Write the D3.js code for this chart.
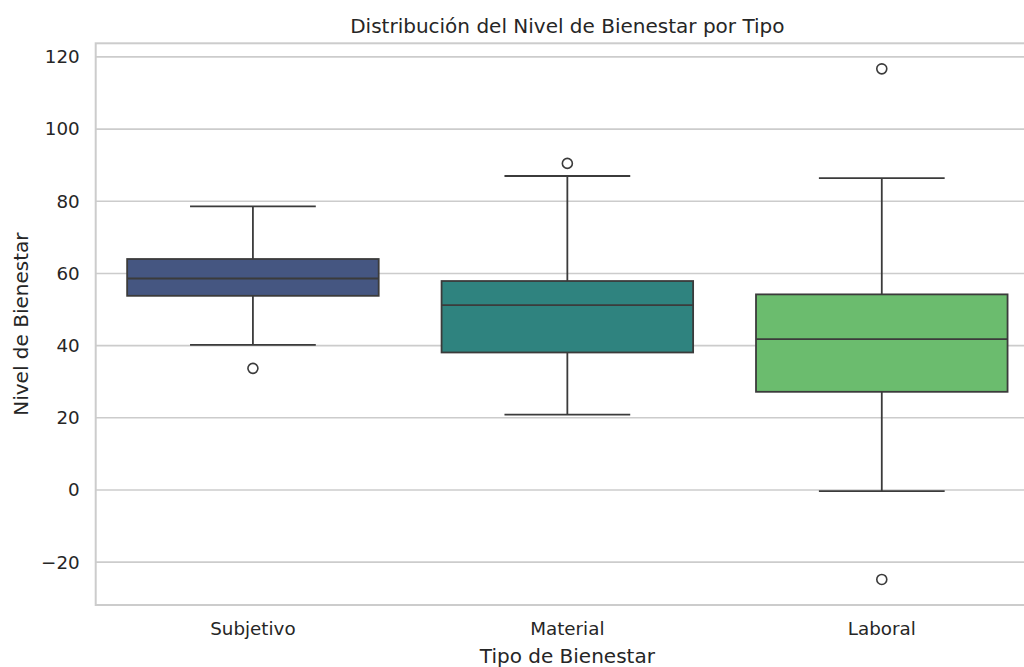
<!DOCTYPE html>
<html>
<head>
<meta charset="utf-8">
<script src="https://cdn.jsdelivr.net/npm/d3@7"></script>
<style>
  html, body { margin: 0; padding: 0; background: #ffffff; overflow: hidden; }
  svg { display: block; font-family: "DejaVu Sans", sans-serif; }
</style>
</head>
<body>
<svg id="chart" width="1024" height="667"></svg>
<script>
// Box statistics per wellbeing type
const categories = ["Subjetivo", "Material", "Laboral"];
const whiskerLow = [40.2, 20.9, -0.3];
const q1 = [53.8, 38.1, 27.2];
const median = [58.6, 51.2, 41.8];
const q3 = [64.0, 57.9, 54.2];
const whiskerHigh = [78.6, 87.0, 86.4];
const outliers = [[33.7], [90.5], [116.7, -24.8]];
const colors = ["#455681", "#2f837f", "#6bbc6e"];
const yTicks = [-20, 0, 20, 40, 60, 80, 100, 120];

const title = "Distribución del Nivel de Bienestar por Tipo";
const xLabel = "Tipo de Bienestar";
const yLabel = "Nivel de Bienestar";

const svg = d3.select("#chart");
const margin = { left: 95.7, top: 43.3, bottom: 605, right: 1039 };
const textColor = "#262626";
const gridColor = "#cccccc";
const lineColor = "#3b3b3b";

// y-extent of all drawn values, padded 5% on each side
const allVals = whiskerLow.concat(whiskerHigh, outliers.flat());
const yMin = d3.min(allVals), yMax = d3.max(allVals);
const pad = (yMax - yMin) * 0.05;

const y = d3.scaleLinear()
  .domain([yMin - pad, yMax + pad])
  .range([margin.bottom, margin.top]);

const x = d3.scaleBand()
  .domain(categories)
  .range([margin.left, margin.right])
  .paddingInner(0.2)
  .paddingOuter(0.1);

const bw = x.bandwidth();
const cx = c => x(c) + bw / 2;

// horizontal grid
svg.append("g")
  .selectAll("line")
  .data(yTicks)
  .join("line")
  .attr("x1", margin.left).attr("x2", margin.right)
  .attr("y1", d => y(d)).attr("y2", d => y(d))
  .attr("stroke", gridColor)
  .attr("stroke-width", 1.6);

// frame
svg.append("rect")
  .attr("x", margin.left).attr("y", margin.top)
  .attr("width", margin.right - margin.left)
  .attr("height", margin.bottom - margin.top)
  .attr("fill", "none")
  .attr("stroke", gridColor)
  .attr("stroke-width", 2);

// y axis ticks
const yAxis = d3.axisLeft(y)
  .tickValues(yTicks)
  .tickSize(0)
  .tickPadding(16)
  .tickFormat(d3.format("d"));
const gy = svg.append("g")
  .attr("transform", `translate(${margin.left},0)`)
  .call(yAxis);
gy.select(".domain").remove();
gy.selectAll("text")
  .attr("fill", textColor)
  .attr("font-size", "18.3px")
  .attr("font-family", "DejaVu Sans, sans-serif")
  .text(d => d < 0 ? "\u2212" + Math.abs(d) : d);

// x axis ticks
const xAxis = d3.axisBottom(x).tickSize(0).tickPadding(17);
const gx = svg.append("g")
  .attr("transform", `translate(0,${margin.bottom})`)
  .call(xAxis);
gx.select(".domain").remove();
gx.selectAll("text")
  .attr("fill", textColor)
  .attr("font-size", "18.3px")
  .attr("font-family", "DejaVu Sans, sans-serif");

// boxes
const boxes = svg.append("g")
  .selectAll("g")
  .data(categories)
  .join("g");

// whiskers
boxes.append("line")
  .attr("x1", d => cx(d)).attr("x2", d => cx(d))
  .attr("y1", (d, i) => y(whiskerLow[i])).attr("y2", (d, i) => y(q1[i]))
  .attr("stroke", lineColor).attr("stroke-width", 1.8);
boxes.append("line")
  .attr("x1", d => cx(d)).attr("x2", d => cx(d))
  .attr("y1", (d, i) => y(q3[i])).attr("y2", (d, i) => y(whiskerHigh[i]))
  .attr("stroke", lineColor).attr("stroke-width", 1.8);
// caps
[whiskerLow, whiskerHigh].forEach(arr => {
  boxes.append("line")
    .attr("x1", d => cx(d) - bw / 4).attr("x2", d => cx(d) + bw / 4)
    .attr("y1", (d, i) => y(arr[i])).attr("y2", (d, i) => y(arr[i]))
    .attr("stroke", lineColor).attr("stroke-width", 1.8);
});
// box body
boxes.append("rect")
  .attr("x", d => x(d))
  .attr("width", bw)
  .attr("y", (d, i) => y(q3[i]))
  .attr("height", (d, i) => y(q1[i]) - y(q3[i]))
  .attr("fill", (d, i) => colors[i])
  .attr("stroke", lineColor)
  .attr("stroke-width", 1.8);
// median
boxes.append("line")
  .attr("x1", d => x(d)).attr("x2", d => x(d) + bw)
  .attr("y1", (d, i) => y(median[i])).attr("y2", (d, i) => y(median[i]))
  .attr("stroke", lineColor).attr("stroke-width", 1.8);
// outliers
boxes.each(function (d, i) {
  d3.select(this).selectAll("circle")
    .data(outliers[i])
    .join("circle")
    .attr("cx", cx(d))
    .attr("cy", v => y(v))
    .attr("r", 5)
    .attr("fill", "none")
    .attr("stroke", lineColor)
    .attr("stroke-width", 1.6);
});

// title and axis labels
const midX = (margin.left + margin.right) / 2;
svg.append("text")
  .attr("x", midX).attr("y", 33)
  .attr("text-anchor", "middle")
  .attr("font-size", "20px")
  .attr("fill", textColor)
  .text(title);

svg.append("text")
  .attr("x", midX).attr("y", 663)
  .attr("text-anchor", "middle")
  .attr("font-size", "20px")
  .attr("fill", textColor)
  .text(xLabel);

svg.append("text")
  .attr("transform", `translate(28,${(margin.top + margin.bottom) / 2}) rotate(-90)`)
  .attr("text-anchor", "middle")
  .attr("font-size", "20px")
  .attr("fill", textColor)
  .text(yLabel);
</script>
</body>
</html>
